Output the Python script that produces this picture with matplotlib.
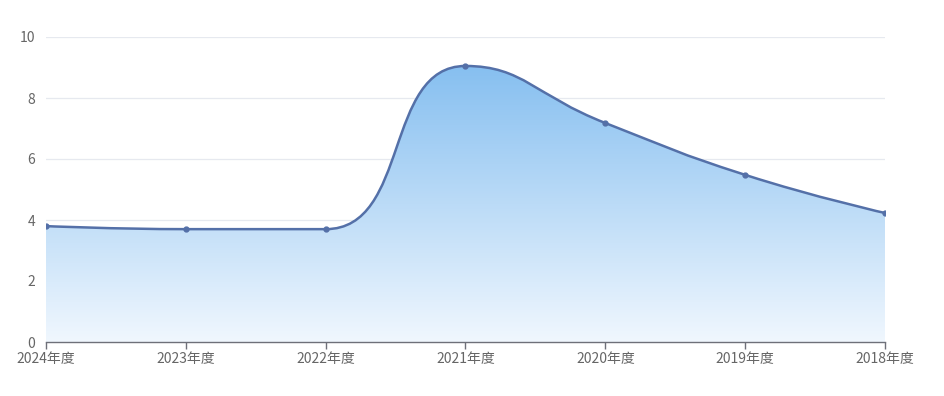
import numpy as np
import matplotlib
matplotlib.use("Agg")
import matplotlib.pyplot as plt
from matplotlib.path import Path
from matplotlib.patches import PathPatch
from matplotlib.colors import LinearSegmentedColormap

plt.rcParams['font.family'] = ['Noto Sans CJK SC', 'DejaVu Sans']

categories = ["2024年度", "2023年度", "2022年度", "2021年度", "2020年度", "2019年度", "2018年度"]
values = [3.80, 3.70, 3.70, 9.05, 7.18, 5.48, 4.23]
y_ticks = [0, 2, 4, 6, 8, 10]

W, H, DPI = 945, 396, 100
fig = plt.figure(figsize=(W / DPI, H / DPI), dpi=DPI)
ax = fig.add_axes([46 / W, 1 - 342 / H, (885 - 46) / W, (342 - 37) / H])
x = np.arange(len(categories))
ax.set_xlim(0, len(categories) - 1)
ax.set_ylim(0, 10)

# ECharts-style smooth curve computed in display space
pts = ax.transData.transform(np.column_stack([x, values]))
px, py = pts[:, 0], pts[:, 1]
smooth = 0.5
verts = [(px[0], py[0])]
codes = [Path.MOVETO]
cpx0, cpy0 = px[0], py[0]
n = len(px)
for i in range(1, n):
    xx, yy = px[i], py[i]
    prevX, prevY = px[i - 1], py[i - 1]
    if i < n - 1:
        nextX, nextY = px[i + 1], py[i + 1]
        vx = nextX - prevX
        vy = nextY - prevY
        lenPrev = np.hypot(xx - prevX, yy - prevY)
        lenNext = np.hypot(nextX - xx, nextY - yy)
        ratio = lenNext / (lenNext + lenPrev)
        ncx = xx + vx * smooth * ratio
        ncy = yy + vy * smooth * ratio
        ncx = max(min(ncx, max(nextX, xx)), min(nextX, xx))
        ncy = max(min(ncy, max(nextY, yy)), min(nextY, yy))
        vx = ncx - xx
        vy = ncy - yy
        cpx1 = xx - vx * lenPrev / lenNext
        cpy1 = yy - vy * lenPrev / lenNext
        cpx1 = max(min(cpx1, max(prevX, xx)), min(prevX, xx))
        cpy1 = max(min(cpy1, max(prevY, yy)), min(prevY, yy))
        vx = xx - cpx1
        vy = yy - cpy1
        ncx = xx + vx * lenNext / lenPrev
        ncy = yy + vy * lenNext / lenPrev
    else:
        cpx1, cpy1 = xx, yy
        ncx, ncy = xx, yy
    verts += [(cpx0, cpy0), (cpx1, cpy1), (xx, yy)]
    codes += [Path.CURVE4] * 3
    cpx0, cpy0 = ncx, ncy

inv = ax.transData.inverted()
dverts = inv.transform(np.array(verts))
line_path = Path(dverts, codes)

fill_verts = list(dverts) + [(x[-1], 0), (x[0], 0), (x[0], 0)]
fill_codes = codes + [Path.LINETO, Path.LINETO, Path.CLOSEPOLY]
fill_path = Path(fill_verts, fill_codes)

# grid
for t in y_ticks[1:]:
    ax.axhline(t, color='#e6e9ef', lw=0.9, zorder=0)

# gradient fill
cmap = LinearSegmentedColormap.from_list('g', ['#f0f7fe', '#86bff0'])
grad = np.linspace(0, 1, 256).reshape(-1, 1)
ymax = max(values)
im = ax.imshow(grad, cmap=cmap, aspect='auto', origin='lower',
               extent=[x[0], x[-1], 0, ymax], zorder=1)
patch = PathPatch(fill_path, facecolor='none', edgecolor='none')
ax.add_patch(patch)
im.set_clip_path(patch)

ax.add_patch(PathPatch(line_path, facecolor='none', edgecolor='#5470a8', lw=1.8, zorder=3))
ax.plot(x, values, 'o', color='#5470a8', ms=3.5, zorder=4)

ax.set_xlim(0, len(categories) - 1)
ax.set_ylim(0, 10)
ax.set_xticks(x)
ax.set_xticklabels(categories)
ax.set_yticks(y_ticks)
for s in ['top', 'right', 'left']:
    ax.spines[s].set_visible(False)
ax.spines['bottom'].set_color('#6e7079')
ax.spines['bottom'].set_linewidth(1.0)
ax.tick_params(axis='x', length=5, width=1, color='#6e7079', labelcolor='#666666',
               labelsize=10, pad=2)
ax.tick_params(axis='y', length=0, labelcolor='#666666', labelsize=10, pad=8)

fig.savefig('out.png', dpi=DPI)
